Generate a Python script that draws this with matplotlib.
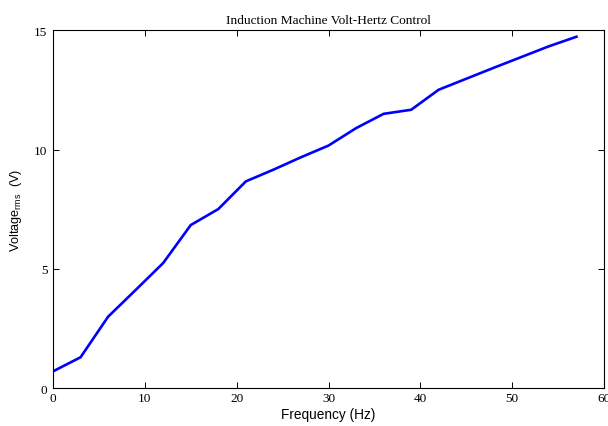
import matplotlib
matplotlib.use('Agg')
from matplotlib import pyplot as plt

# Volt-Hertz curve
freq = [0, 3, 6, 9, 12, 15, 18, 21, 24, 27, 30, 33, 36, 39, 42, 45, 48, 51, 54, 57]
volts = [0.71, 1.30, 3.00, 4.12, 5.25, 6.84, 7.51, 8.67, 9.16, 9.68, 10.17, 10.90,
         11.50, 11.67, 12.51, 12.97, 13.43, 13.88, 14.33, 14.73]
xticks = [0, 10, 20, 30, 40, 50, 60]
yticks = [0, 5, 10, 15]

plt.rcParams['mathtext.fontset'] = 'custom'
plt.rcParams['mathtext.rm'] = 'Liberation Sans'
plt.rcParams['mathtext.it'] = 'Liberation Sans'

fig = plt.figure(figsize=(6.08, 4.27), dpi=100)
ax = fig.add_axes([0.0872, 0.0883, 0.9062, 0.8384])
ax.plot(freq, volts, color=(0, 0, 1), linewidth=1.9)

ax.set_xlim(0, 60)
ax.set_ylim(0, 15)
ax.set_xticks(xticks)
ax.set_yticks(yticks)
ax.tick_params(direction='in', top=True, right=True, length=4, width=0.7,
               labelsize=9.5)
ax.tick_params(axis='x', pad=3)
ax.tick_params(axis='y', pad=4)
for lab in ax.get_xticklabels() + ax.get_yticklabels():
    lab.set_family('Liberation Serif')
for s in ax.spines.values():
    s.set_linewidth(0.8)

ax.set_title('Induction Machine Volt-Hertz Control', family='Liberation Serif',
             fontsize=9.6, pad=5)
ax.set_xlabel('Frequency (Hz)', family='Liberation Sans', fontsize=9.8, labelpad=2)
ax.set_ylabel(r'Voltage$_{\mathrm{rms}}$  (V)', family='Liberation Sans',
              fontsize=9.1, labelpad=7)

fig.savefig('out.png', dpi=100)
